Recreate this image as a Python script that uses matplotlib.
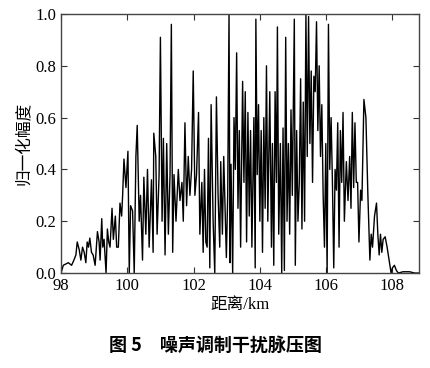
import matplotlib
matplotlib.use('Agg')
import matplotlib.pyplot as plt
import numpy as np

plt.rcParams['font.family'] = ['Liberation Serif', 'Noto Sans CJK SC']

# values, split by region of the range profile
# left tail (98 - 100 km)
dist_left = [98.00, 98.07, 98.22, 98.32, 98.39, 98.45, 98.49, 98.55, 98.60, 98.65,
             98.70, 98.75, 98.79, 98.83, 98.87, 98.92, 98.97, 99.03, 99.10, 99.15,
             99.18, 99.23, 99.26, 99.30, 99.36, 99.40, 99.44, 99.48, 99.54, 99.58,
             99.64, 99.68, 99.73, 99.78, 99.83, 99.86, 99.90, 99.96]
amp_left = [0.00, 0.03, 0.04, 0.03, 0.05, 0.07, 0.12, 0.09, 0.05, 0.10,
            0.08, 0.04, 0.12, 0.10, 0.135, 0.08, 0.07, 0.03, 0.16, 0.12,
            0.05, 0.21, 0.10, 0.13, 0.00, 0.17, 0.12, 0.10, 0.25, 0.13,
            0.22, 0.10, 0.10, 0.27, 0.22, 0.30, 0.44, 0.33]

# rising part (100 - 102 km)
dist_rise = [100.02, 100.06, 100.10, 100.16, 100.21, 100.26, 100.30, 100.36, 100.40, 100.46,
             100.50, 100.56, 100.61, 100.66, 100.73, 100.78, 100.80, 100.86, 100.90, 100.96,
             101.00, 101.05, 101.09, 101.14, 101.19, 101.24, 101.29, 101.33, 101.37, 101.41,
             101.47, 101.54, 101.59, 101.65, 101.69, 101.74, 101.79, 101.84, 101.89, 101.94,
             101.99]
amp_rise = [0.47, 0.00, 0.26, 0.24, 0.00, 0.45, 0.57, 0.20, 0.30, 0.05,
            0.37, 0.15, 0.40, 0.10, 0.36, 0.08, 0.54, 0.45, 0.15, 0.38,
            0.91, 0.20, 0.52, 0.07, 0.50, 0.15, 0.38, 0.96, 0.08, 0.38,
            0.20, 0.40, 0.28, 0.35, 0.20, 0.58, 0.26, 0.45, 0.30, 0.40,
            0.78]

# core (102 - 106 km)
dist_core = [102.04, 102.09, 102.15, 102.19, 102.25, 102.29, 102.33, 102.37, 102.41, 102.45,
             102.49, 102.53, 102.59, 102.64, 102.69, 102.74, 102.79, 102.82, 102.87, 102.91,
             102.96, 102.99, 103.03, 103.07, 103.10, 103.13, 103.18, 103.22, 103.26, 103.30,
             103.34, 103.38, 103.42, 103.48, 103.52, 103.56, 103.60, 103.64, 103.68, 103.72,
             103.76, 103.82, 103.86, 103.88, 103.92, 103.96, 104.00, 104.04, 104.08, 104.12,
             104.16, 104.20, 104.24, 104.30, 104.35, 104.38, 104.42, 104.46, 104.50, 104.53,
             104.57, 104.62, 104.66, 104.70, 104.74, 104.78, 104.82, 104.86, 104.90, 104.94,
             104.98, 105.04, 105.07, 105.11, 105.15, 105.19, 105.23, 105.27, 105.31, 105.35,
             105.39, 105.43, 105.47, 105.51, 105.55, 105.59, 105.63, 105.67, 105.71, 105.75,
             105.79, 105.83, 105.87, 105.91, 105.95, 105.99]
amp_core = [0.30, 0.38, 0.62, 0.15, 0.35, 0.08, 0.40, 0.12, 0.10, 0.52,
            0.02, 0.65, 0.20, 0.00, 0.68, 0.30, 0.10, 0.43, 0.15, 0.45,
            0.20, 0.06, 0.30, 1.00, 0.04, 0.42, 0.00, 0.60, 0.40, 0.85,
            0.25, 0.55, 0.10, 0.74, 0.35, 0.70, 0.12, 0.62, 0.22, 0.55,
            0.10, 0.60, 0.02, 0.98, 0.38, 0.65, 0.20, 0.55, 0.08, 0.60,
            0.25, 0.80, 0.20, 0.70, 0.10, 0.50, 0.03, 0.70, 0.35, 0.95,
            0.15, 0.50, 0.00, 0.56, 0.01, 0.91, 0.20, 0.50, 0.15, 0.63,
            0.30, 0.98, 0.03, 0.55, 0.20, 0.35, 0.75, 0.17, 0.66, 0.20,
            1.00, 0.45, 0.99, 0.50, 0.78, 0.35, 0.76, 0.70, 0.97, 0.55,
            0.80, 0.45, 0.65, 0.30, 0.10, 0.50]

# decay (106 - 108 km)
dist_fall = [106.03, 106.07, 106.11, 106.15, 106.19, 106.23, 106.27, 106.31, 106.35, 106.39,
             106.43, 106.47, 106.51, 106.55, 106.61, 106.66, 106.71, 106.75, 106.79, 106.83,
             106.87, 106.91, 106.95, 106.99, 107.04, 107.08, 107.14, 107.20, 107.26, 107.32,
             107.36, 107.40, 107.46, 107.52, 107.56, 107.60, 107.64, 107.68, 107.72, 107.78,
             107.84, 107.90, 107.96]
amp_fall = [0.00, 0.96, 0.40, 0.60, 0.35, 0.02, 0.40, 0.32, 0.58, 0.10,
            0.55, 0.35, 0.62, 0.20, 0.43, 0.28, 0.45, 0.25, 0.62, 0.33,
            0.58, 0.35, 0.35, 0.12, 0.32, 0.28, 0.67, 0.60, 0.30, 0.05,
            0.15, 0.10, 0.22, 0.27, 0.15, 0.07, 0.15, 0.08, 0.13, 0.14,
            0.10, 0.05, 0.00]

# right tail (108 km onwards)
dist_right = [108.00, 108.06, 108.12, 108.18, 108.32, 108.52, 108.67, 108.79]
amp_right = [0.02, 0.03, 0.01, 0.00, 0.005, 0.005, 0.00, 0.00]

distance = dist_left + dist_rise + dist_core + dist_fall + dist_right
amplitude = amp_left + amp_rise + amp_core + amp_fall + amp_right

fig = plt.figure(figsize=(4.31, 3.68), dpi=100)
ax = fig.add_axes([0.1415, 0.258, 0.8305, 0.704])
ax.plot(distance, amplitude, color='black', linewidth=1.0)

ax.set_xlim(98, 108.8)
ax.set_ylim(0, 1.0)
ax.set_xticks([98, 100, 102, 104, 106, 108])
ax.set_yticks(np.arange(0, 1.01, 0.2))
ax.set_yticklabels([f'{v:.1f}' for v in np.arange(0, 1.01, 0.2)])
ax.tick_params(direction='in', top=True, right=True, length=4, width=0.8,
               labelsize=12, colors='#333333', labelcolor='black')
for s in ax.spines.values():
    s.set_color('#444444')
    s.set_linewidth(1.0)

ax.set_xlabel('距离/km', fontsize=12, labelpad=2)
ax.set_ylabel('归一化幅度', fontsize=12, labelpad=2,
              family=['Noto Sans CJK SC', 'DejaVu Sans'])

fig.text(0.5, 0.062, '图 5　噪声调制干扰脉压图', ha='center', va='center',
         fontsize=13, fontweight='bold', family=['Noto Sans CJK SC', 'DejaVu Sans'])

fig.savefig('out.png', dpi=100)
